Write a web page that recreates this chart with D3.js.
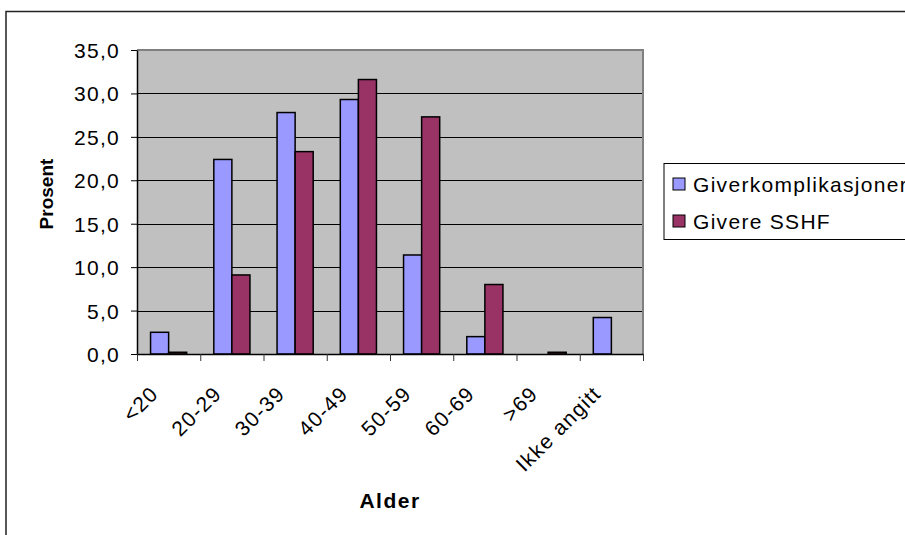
<!DOCTYPE html>
<html>
<head>
<meta charset="utf-8">
<script src="https://cdn.jsdelivr.net/npm/d3@7"></script>
<style>
  html, body { margin: 0; padding: 0; background: #fff; }
  svg { display: block; font-family: Arial, "Liberation Sans", sans-serif; }
</style>
</head>
<body>
<svg id="chart" width="905" height="535"></svg>
<script>
const categories = ["<20", "20-29", "30-39", "40-49", "50-59", "60-69", ">69", "Ikke angitt"];
const seriesNames = ["Giverkomplikasjoner", "Givere SSHF"];
const giverkomplikasjoner = [2.5, 22.4, 27.8, 29.3, 11.4, 2.0, 0.0, 4.2];
const givereSSHF = [0.2, 9.1, 23.3, 31.6, 27.3, 8.0, 0.2, 0.0];
const yTicks = [0, 5, 10, 15, 20, 25, 30, 35];
const colors = ["#9999FF", "#993366"];

const svg = d3.select("#chart");
const plot = { left: 137, right: 643, top: 50, bottom: 354 };

// outer chart border (right/bottom run off the canvas)
svg.append("rect")
  .attr("x", 6).attr("y", 11.5)
  .attr("width", 1000).attr("height", 1000)
  .attr("fill", "#fff").attr("stroke", "#222").attr("stroke-width", 1.5);

const x = d3.scaleBand().domain(categories).range([plot.left, plot.right]).padding(0);
const xSub = d3.scaleBand().domain(seriesNames).range([0, x.bandwidth()]).paddingInner(0).paddingOuter(0.75);
const y = d3.scaleLinear().domain([0, 35]).range([plot.bottom, plot.top]);

// plot background
svg.append("rect")
  .attr("x", plot.left).attr("y", plot.top)
  .attr("width", plot.right - plot.left).attr("height", plot.bottom - plot.top)
  .attr("fill", "#C0C0C0");

// gridlines
svg.append("g").selectAll("line")
  .data(yTicks.filter(d => d > 0 && d < 35))
  .join("line")
  .attr("x1", plot.left).attr("x2", plot.right)
  .attr("y1", d => Math.round(y(d)) + 0.5).attr("y2", d => Math.round(y(d)) + 0.5)
  .attr("stroke", "#000").attr("stroke-width", 1);

// plot border (gray)
svg.append("path")
  .attr("d", `M${plot.left},${plot.top}H${plot.right}V${plot.bottom}`)
  .attr("fill", "none").attr("stroke", "#808080").attr("stroke-width", 2);

// bars
const data = categories.map((c, i) => ({ cat: c, vals: [giverkomplikasjoner[i], givereSSHF[i]] }));
const groups = svg.append("g").selectAll("g")
  .data(data).join("g")
  .attr("transform", d => `translate(${x(d.cat)},0)`);
groups.selectAll("rect")
  .data(d => d.vals.map((v, j) => ({ v, s: seriesNames[j], j })))
  .join("rect")
  .filter(d => d.v > 0)
  .attr("x", d => xSub(d.s))
  .attr("y", d => y(d.v))
  .attr("width", xSub.bandwidth())
  .attr("height", d => y(0) - y(d.v))
  .attr("fill", d => colors[d.j])
  .attr("stroke", "#000").attr("stroke-width", 1.5);

// y axis
const yAxis = d3.axisLeft(y).tickValues(yTicks).tickSize(6).tickSizeOuter(0)
  .tickFormat(d => d3.format(".1f")(d).replace(".", ","));
const gy = svg.append("g").attr("transform", `translate(${plot.left},0)`).call(yAxis);
gy.select(".domain").attr("stroke", "#000").attr("stroke-width", 1.5);
gy.selectAll(".tick line").attr("stroke", "#000");
gy.selectAll(".tick text")
  .attr("x", -17).attr("dy", "0.36em")
  .style("font-size", "21px").style("letter-spacing", "1.3px")
  .attr("fill", "#000");

// x axis (ticks between categories)
const xi = d3.scaleLinear().domain([0, categories.length]).range([plot.left, plot.right]);
const xAxis = d3.axisBottom(xi).tickValues(d3.range(categories.length + 1)).tickSize(7).tickSizeOuter(0).tickFormat("");
const gx = svg.append("g").attr("transform", `translate(0,${plot.bottom})`).call(xAxis);
gx.select(".domain").attr("stroke", "#000").attr("stroke-width", 1.5);
gx.selectAll(".tick line").attr("stroke", "#333");

// x labels rotated
svg.append("g").selectAll("text")
  .data(categories).join("text")
  .attr("transform", d => `translate(${x(d) + x.bandwidth() / 2 - 9},395) rotate(-45)`)
  .attr("text-anchor", "end")
  .style("font-size", "21px").style("letter-spacing", "1.3px")
  .attr("fill", "#000")
  .text(d => d);

// axis titles
svg.append("text")
  .attr("transform", `translate(53,194) rotate(-90)`)
  .attr("text-anchor", "middle")
  .style("font-size", "19px").style("font-weight", "bold")
  .text("Prosent");
svg.append("text")
  .attr("x", (plot.left + plot.right) / 2).attr("y", 508)
  .attr("text-anchor", "middle")
  .style("font-size", "21px").style("font-weight", "bold").style("letter-spacing", "1.5px")
  .text("Alder");

// legend
const lg = svg.append("g");
lg.append("rect")
  .attr("x", 664).attr("y", 163.5).attr("width", 400).attr("height", 76)
  .attr("fill", "#fff").attr("stroke", "#000").attr("stroke-width", 1);
const items = lg.selectAll("g.item").data(seriesNames).join("g")
  .attr("class", "item")
  .attr("transform", (d, i) => `translate(673,${184 + i * 37})`);
items.append("rect")
  .attr("x", 0).attr("y", -6).attr("width", 12).attr("height", 12)
  .attr("fill", (d, i) => colors[i]).attr("stroke", "#000").attr("stroke-width", 1);
items.append("text")
  .attr("x", 20).attr("dy", "0.36em")
  .style("font-size", "21px").style("letter-spacing", "1.3px")
  .text(d => d);
</script>
</body>
</html>
